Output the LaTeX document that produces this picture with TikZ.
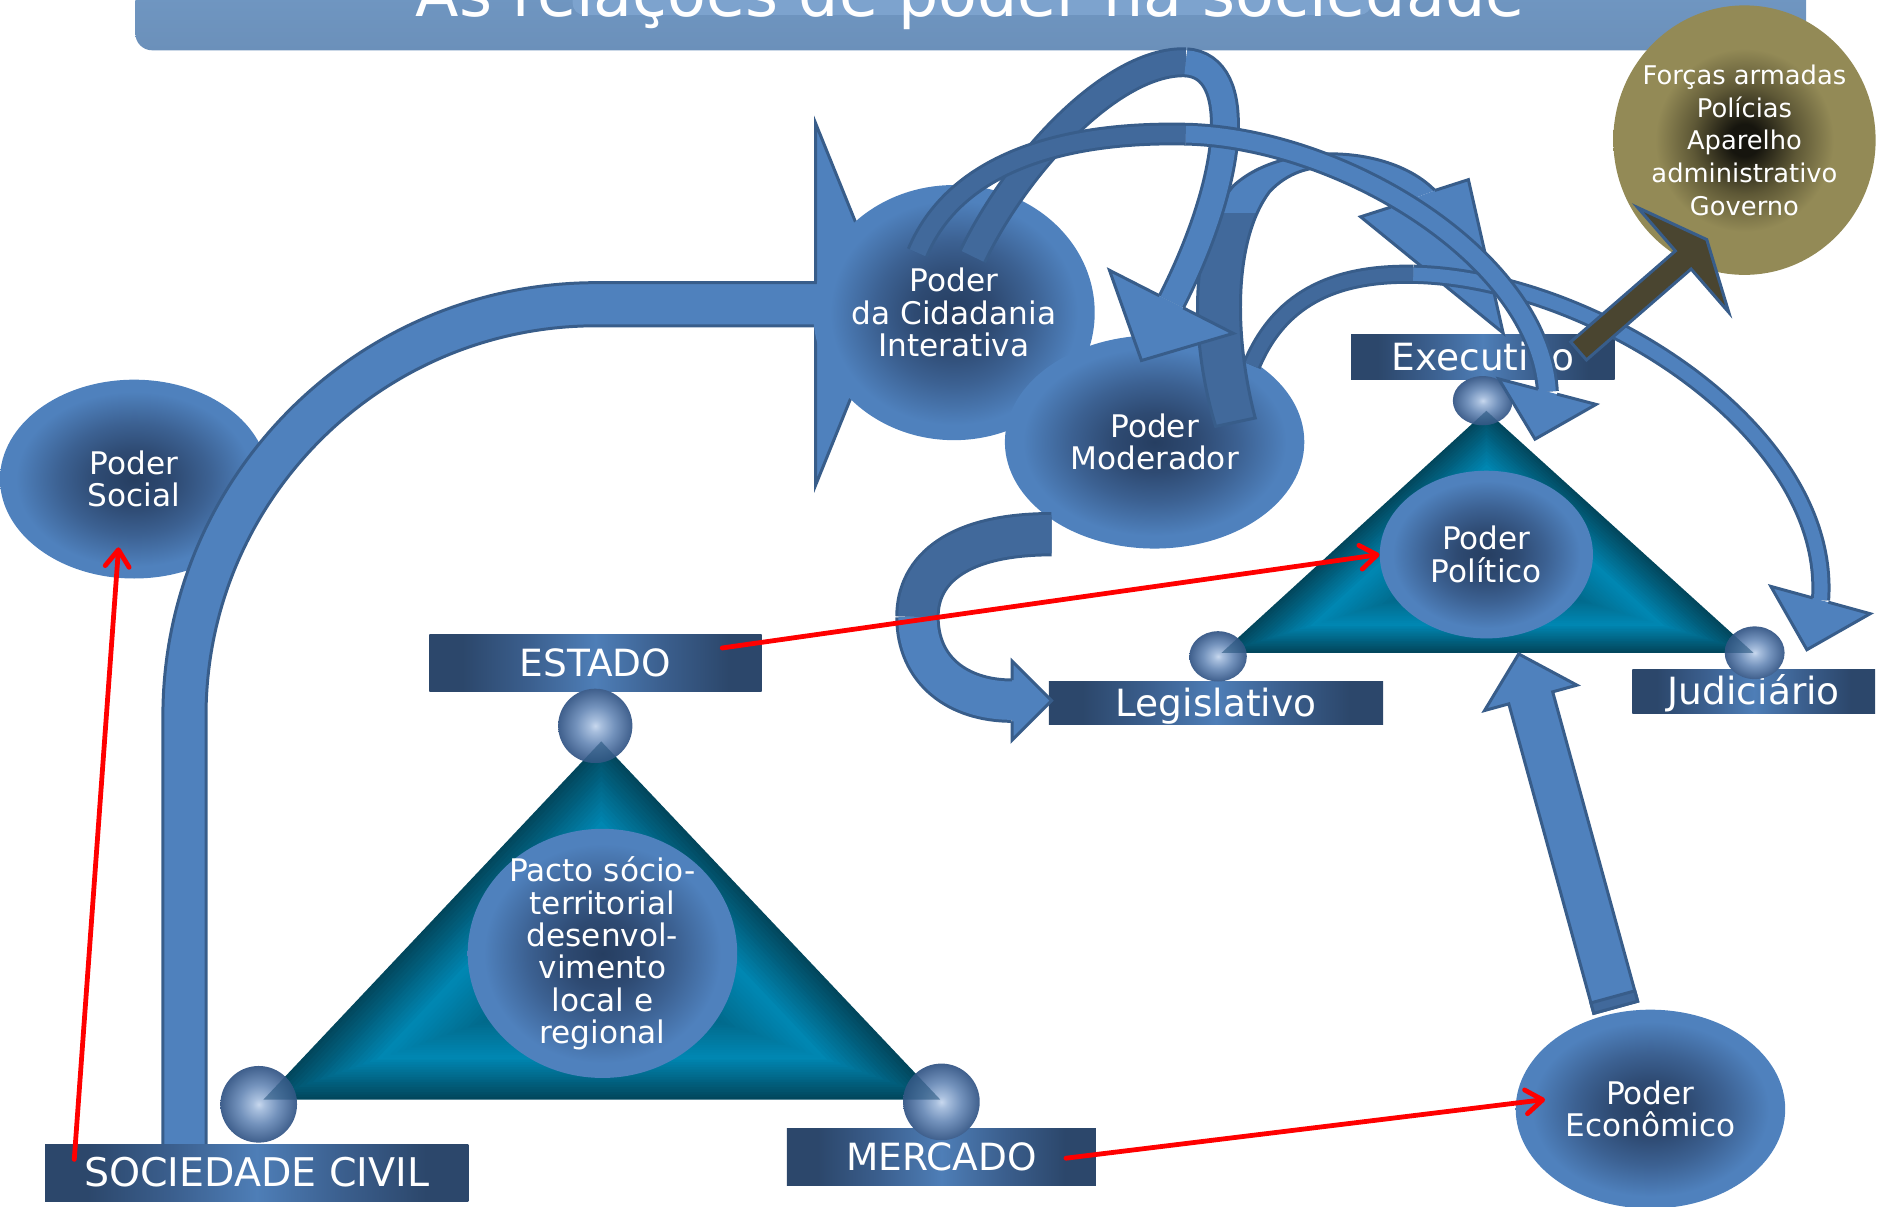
\documentclass[tikz,border=0pt]{standalone}
\usepackage{fontspec}
\setmainfont{DejaVu Sans}
\usetikzlibrary{calc,shapes.geometric,arrows.meta}

\definecolor{bandL}{HTML}{4F81BD}
\definecolor{bandD}{HTML}{41699B}
\definecolor{bandO}{HTML}{385D8A}
\definecolor{ellD}{HTML}{263E61}
\definecolor{ellD2}{HTML}{2E4A72}
\definecolor{ellM}{HTML}{3C6192}
\definecolor{ellL}{HTML}{4F81BD}
\definecolor{boxD}{HTML}{2C476B}
\definecolor{boxM}{HTML}{3B5F8E}
\definecolor{boxL}{HTML}{4E7EB7}
\definecolor{sphH}{HTML}{C8D8EE}
\definecolor{sphA}{HTML}{A7BEDD}
\definecolor{sphM}{HTML}{7392BC}
\definecolor{sphE}{HTML}{3F5F8C}
\definecolor{tealdk}{HTML}{02475D}
\definecolor{tealbr}{HTML}{0088B4}
\definecolor{oliveL}{HTML}{938A56}
\definecolor{oliveM}{HTML}{5E5836}
\definecolor{oliveD}{HTML}{16150E}
\definecolor{titleT}{HTML}{739BC7}
\definecolor{titleB}{HTML}{6B90BA}
\definecolor{titleHL}{HTML}{7DA3CE}
\definecolor{darkarr}{HTML}{4A4530}
\definecolor{redline}{HTML}{FF0000}
\definecolor{tipshade}{HTML}{1F4F78}

% TikZ fits the middle 50bp of a shading to the path
\pgfdeclareradialshading{ellsh}{\pgfpoint{0bp}{0bp}}{color(0bp)=(ellD); color(7bp)=(ellD2); color(14bp)=(ellM); color(22bp)=(ellL); color(25bp)=(ellL); color(50bp)=(ellL)}
\pgfdeclareradialshading{sphsh}{\pgfpoint{0bp}{0bp}}{color(0bp)=(sphH); color(4bp)=(sphA); color(13bp)=(sphM); color(25bp)=(sphE); color(50bp)=(sphE)}
\pgfdeclareradialshading{forsh}{\pgfpoint{0bp}{0bp}}{color(0bp)=(oliveD); color(3bp)=(oliveD); color(10bp)=(oliveM); color(17bp)=(oliveL); color(25bp)=(oliveL); color(50bp)=(oliveL)}
\pgfdeclarehorizontalshading{boxsh}{100bp}{color(0bp)=(boxD); color(25bp)=(boxD); color(30bp)=(boxD); color(40bp)=(boxM); color(50bp)=(boxL); color(60bp)=(boxM); color(70bp)=(boxD); color(75bp)=(boxD); color(100bp)=(boxD)}

% arrow head on an open outline: base, back point, shaft half width, head half width, head length
\newcommand\arrhead[6][]{%
  \filldraw[#1] ($(#2)!#4!90:(#3)$) -- ($(#2)!#5!90:(#3)$) -- ($(#2)!-#6!(#3)$) -- ($(#2)!#5!-90:(#3)$) -- ($(#2)!#4!-90:(#3)$);}
% straight block arrow: start, tip, shaft half width, head half width, head length
\newcommand\blockarr[6][]{%
  \coordinate (ba-h) at ($(#3)!#6!(#2)$);
  \filldraw[#1] ($(#2)!#4!90:(#3)$) -- ($(ba-h)!#4!90:(#3)$) -- ($(ba-h)!#5!90:(#3)$) -- (#3) -- ($(ba-h)!#5!-90:(#3)$) -- ($(ba-h)!#4!-90:(#3)$) -- ($(#2)!#4!-90:(#3)$) -- cycle;}
% triangle with a shape gradient
\newcommand\gradtri[6]{%
  \pgfmathsetmacro\gcx{(#1+#3+#5)/3}%
  \pgfmathsetmacro\gcy{(#2+#4+#6)/3}%
  \foreach \gi in {0,...,47}{%
    \pgfmathsetmacro\gs{1-\gi/48}%
    \pgfmathtruncatemacro\gp{ifthenelse(\gs>0.66,(1-\gs)/0.34*100,\gs/0.66*100)}%
    \fill[tealbr!\gp!tealdk] ($(\gcx,\gcy)!\gs!(#1,#2)$) -- ($(\gcx,\gcy)!\gs!(#3,#4)$) -- ($(\gcx,\gcy)!\gs!(#5,#6)$) -- cycle;
  }}

\tikzset{
  ell/.style={ellipse, shade, shading=ellsh, inner sep=0pt},
  etext/.style={text=white, align=center, font=\fontsize{26}{27}\selectfont},
  lbox/.style={rectangle, shade, shading=boxsh, inner sep=0pt, text=white, font=\fontsize{31.3}{30}\selectfont, text height=22.5pt, text depth=0pt},
  sphere/.style={ellipse, shade, shading=sphsh, inner sep=0pt},
  ribd/.style={draw=bandO, line width=2.5pt, double=bandD, double distance=#1},
  ribl/.style={draw=bandO, line width=2.5pt, double=bandL, double distance=#1},
  headst/.style={fill=bandL, draw=bandO, line width=2.5pt, line join=miter},
  redarr/.style={draw=redline, line width=4pt, line cap=round, -{Straight Barb[length=14pt, width=20pt, round]}}
}

\begin{document}
\begin{tikzpicture}[x=1pt, y=-1pt]
\useasboundingbox (0,0) rectangle (1568,1007);

% title bar
\shade[top color=titleT, bottom color=titleB, rounded corners=14pt] (113,-40) rectangle (1508,42);
\fill[titleHL, rounded corners=10pt] (478,-40) rectangle (1145,12.5);
\node[anchor=base, text=white, font=\fontsize{53}{53}\selectfont, inner sep=0pt] (title) at (810,14) {As relações de poder na sociedade};

% Forcas armadas
\node[ellipse, shade, shading=forsh, minimum width=219pt, minimum height=225pt, inner sep=0pt] (forcas) at (1456.5,117) {};
\node[text=white, align=center, font=\fontsize{21.5}{27.3}\selectfont] (forcas-t) at (forcas) {Forças armadas\\Polícias\\Aparelho\\administrativo\\Governo};

% political triangle
\node[lbox, minimum width=220pt, minimum height=37.5pt] (exec) at (1238,297.7) {Executivo};
\node[lbox, minimum width=279pt, minimum height=36pt] (legis) at (1015.2,586.6) {Legislativo};
\node[lbox, minimum width=202.6pt, minimum height=37pt] (judic) at (1464.3,577.1) {Judiciário};
\gradtri{1020}{545}{1464}{545}{1241}{343}
\node[sphere, minimum width=50pt, minimum height=41pt] (exec-s) at (1238,334.5) {};
\node[sphere, minimum width=48pt, minimum height=42pt] (legis-s) at (1017,548) {};
\node[sphere, minimum width=50pt, minimum height=44pt] (judic-s) at (1465,545) {};
\begin{scope}
  \clip (1238,334.5) ellipse[x radius=25, y radius=20.5] (1017,548) ellipse[x radius=24, y radius=21] (1465,545) ellipse[x radius=25, y radius=22];
  \fill[tipshade, fill opacity=0.55] (1020,545) -- (1464,545) -- (1241,343) -- cycle;
\end{scope}
\node[ell, minimum width=178pt, minimum height=140pt] (politico) at (1241,463) {};
\node[etext] (politico-t) at (politico) {Poder\\Político};

% social power and the big arrow
\node[ell, minimum width=224pt, minimum height=166pt] (social) at (112,400) {};
\node[etext] (social-t) at (social) {Poder\\Social};
\filldraw[fill=bandL, draw=bandO, line width=2.5pt, line join=miter] (136,957) -- (136,598) arc[start angle=180, end angle=270, radius=362] -- (681,236) -- (681,103) -- (742,254) -- (681,405) -- (681,272) -- (498,272) arc[start angle=270, end angle=180, radius=326] -- (172,957) -- cycle;

\node[ell, minimum width=235pt, minimum height=213pt] (cidad) at (796.5,261) {};
\node[etext] (cidad-t) at (cidad) {Poder\\da Cidadania\\Interativa};
\node[ell, minimum width=250pt, minimum height=178pt] (moder) at (964,369) {};
\node[etext] (moder-t) at (moder) {Poder\\Moderador};

% Moderador -> Executivo (ribbon of varying width)
\path[fill=bandL] (1015,356) .. controls (995,290) and (990,200) .. (1030,155) .. controls (1070,118) and (1160,120) .. (1198,159)
  -- (1161,173) .. controls (1140,135) and (1090,128) .. (1060,160) .. controls (1030,200) and (1030,280) .. (1048,349) -- cycle;
\begin{scope}
  \clip (900,178) rectangle (1100,400);
  \path[fill=bandD] (1015,356) .. controls (995,290) and (990,200) .. (1030,155) .. controls (1070,118) and (1160,120) .. (1198,159)
    -- (1161,173) .. controls (1140,135) and (1090,128) .. (1060,160) .. controls (1030,200) and (1030,280) .. (1048,349) -- cycle;
\end{scope}
\draw[draw=bandO, line width=2.5pt] (1161,173) .. controls (1140,135) and (1090,128) .. (1060,160) .. controls (1030,200) and (1030,280) .. (1048,349) -- (1015,356) .. controls (995,290) and (990,200) .. (1030,155) .. controls (1070,118) and (1160,120) .. (1198,159);
\filldraw[headst] (1198,159) -- (1226,150) -- (1255,278) -- (1136,181) -- (1161,173);

% Cidadania -> Moderador (loop)
\draw[ribd=20pt] (812,214) .. controls (850,135) and (930,50) .. (990,52);
\draw[ribl=20pt] (990,52) .. controls (1040,55) and (1030,150) .. (978,252);
\arrhead[headst]{978,252}{1030,150}{11.25pt}{58pt}{55pt}

% Moderador -> Judiciario
\draw[ribd=11pt] (1045,305) .. controls (1070,245) and (1120,228) .. (1180,229);
\draw[ribl=11pt] (1180,229) .. controls (1330,232) and (1530,360) .. (1520,501);
\arrhead[headst]{1520,501}{1531,461}{6.75pt}{43pt}{43pt}

% Cidadania -> Executivo
\draw[ribd=14pt] (766,211) .. controls (800,130) and (900,110) .. (990,112);
\draw[ribl=14pt] (990,112) .. controls (1120,115) and (1285,215) .. (1292,327);
\arrhead[headst]{1292,327}{1303,285}{8.25pt}{42pt}{41pt}

% Moderador -> Legislativo
\draw[ribd=32pt] (878,446) .. controls (800,446) and (766,475) .. (766,515);
\draw[ribl=32pt] (766,515) .. controls (766,560) and (800,585) .. (845,585);
\arrhead[headst]{845,585}{800,585}{17.25pt}{33pt}{33pt}

% Executivo -> Forcas
\coordinate (dark-a) at (1318,293);
\coordinate (dark-b) at (1425,200);
\blockarr[fill=darkarr, draw=bandO, line width=2.5pt, line join=miter]{dark-a}{dark-b}{10pt}{58pt}{26pt}

% civil triangle
\node[lbox, minimum width=277.5pt, minimum height=47pt] (estado) at (497.2,553.5) {ESTADO};
\node[lbox, minimum width=258pt, minimum height=47.5pt] (mercado) at (786,965.7) {MERCADO};
\node[lbox, minimum width=353.4pt, minimum height=47.5pt, font=\fontsize{33}{33}\selectfont] (socied) at (214.3,979.7) {SOCIEDADE CIVIL};
\gradtri{220}{918}{785}{918}{502}{619}
\node[sphere, minimum size=62pt] (estado-s) at (497,606) {};
\node[sphere, minimum size=64pt] (socied-s) at (216,922) {};
\node[sphere, minimum size=64pt] (mercado-s) at (786,920) {};
\begin{scope}
  \clip (497,606) circle[radius=31] (216,922) circle[radius=32] (786,920) circle[radius=32];
  \fill[tipshade, fill opacity=0.55] (220,918) -- (785,918) -- (502,619) -- cycle;
\end{scope}
\node[ell, minimum width=225pt, minimum height=208pt] (pacto) at (503,796) {};
\node[etext] (pacto-t) at (pacto) {Pacto sócio-\\territorial\\desenvol-\\vimento\\local e\\regional};

% economic power
\node[ell, minimum width=225pt, minimum height=166pt] (econ) at (1378,926) {};
\node[etext] (econ-t) at (econ) {Poder\\Econômico};
\coordinate (up-a) at (1349,841);
\coordinate (up-b) at (1268,546);
\blockarr[fill=bandL, draw=bandO, line width=2.5pt, line join=miter]{up-a}{up-b}{19pt}{40pt}{38pt}
\coordinate (up-a2) at ($(up-a)!9pt!(up-b)$);
\filldraw[fill=bandD, draw=bandO, line width=2.5pt, line join=miter] ($(up-a)!19pt!90:(up-b)$) -- ($(up-a2)!19pt!90:(up-b)$) -- ($(up-a2)!19pt!-90:(up-b)$) -- ($(up-a)!19pt!-90:(up-b)$) -- cycle;

% red arrows
\coordinate (estado-o) at (603,541);
\draw[redarr] (estado-o) -- (politico.west);
\coordinate (merc-o) at (890,967);
\coordinate (econ-i) at (1290,918);
\draw[redarr] (merc-o) -- (econ-i);
\coordinate (soc-o) at (62,968);
\coordinate (social-i) at (99,457);
\draw[redarr] (soc-o) -- (social-i);
\end{tikzpicture}
\end{document}
